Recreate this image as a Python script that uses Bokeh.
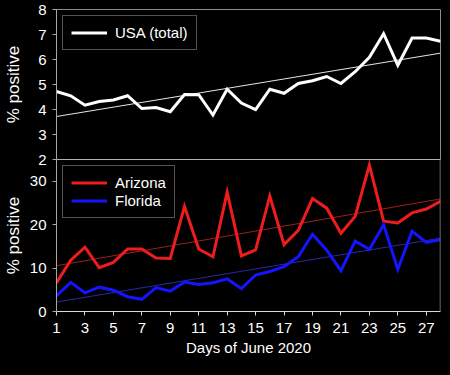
import numpy as np
from bokeh.plotting import figure
from bokeh.layouts import column
from bokeh.models import (FixedTicker, Range1d, Legend, LegendItem, Span,
                          GlobalInlineStyleSheet)
from bokeh.embed import file_html
from bokeh.resources import INLINE

# ---------------- data ----------------
days = list(range(1, 29))
usa = [4.72, 4.55, 4.17, 4.32, 4.38, 4.55, 4.04, 4.08, 3.91, 4.60,
       4.59, 3.78, 4.81, 4.26, 4.00, 4.81, 4.65, 5.04, 5.15, 5.32,
       5.04, 5.51, 6.09, 7.03, 5.77, 6.86, 6.86, 6.73]
arizona = [6.6, 11.8, 14.8, 10.1, 11.3, 14.4, 14.4, 12.3, 12.2, 24.2,
           14.4, 12.6, 27.5, 12.8, 14.2, 26.6, 15.4, 18.7, 26.0, 23.8,
           18.0, 21.9, 33.7, 20.8, 20.4, 22.7, 23.6, 25.4]
florida = [3.6, 6.7, 4.3, 5.6, 4.9, 3.4, 2.8, 5.5, 4.7, 6.8,
           6.2, 6.6, 7.5, 5.3, 8.4, 9.2, 10.3, 12.6, 17.8, 14.1,
           9.4, 16.2, 14.3, 20.0, 9.7, 18.5, 15.9, 16.5]
x_ticks = [1, 3, 5, 7, 9, 11, 13, 15, 17, 19, 21, 23, 25, 27]
usa_ticks = [2, 3, 4, 5, 6, 7, 8]
state_ticks = [0, 10, 20, 30]
state_max = 35
series_labels = ["USA (total)", "Arizona", "Florida"]
x_title = "Days of June 2020"
y_title = "% positive"

FONT = "Liberation Sans"
TXT = "#ffffff"
AXC = "#a6a6a6"
FS = "15px"
FS_Y = "17px"


def trend(x, y):
    k, b = np.polyfit(x, y, 1)
    xs = [x[0], x[-1]]
    return xs, [k * xs[0] + b, k * xs[1] + b]


def style_y(p, ticks, standoff):
    ax = p.yaxis[0]
    ax.ticker = FixedTicker(ticks=ticks)
    ax.axis_label = y_title
    ax.axis_label_text_font = FONT
    ax.axis_label_text_font_size = FS_Y
    ax.axis_label_text_font_style = "normal"
    ax.axis_label_text_color = TXT
    ax.axis_label_standoff = standoff
    ax.major_label_text_font = FONT
    ax.major_label_text_font_size = FS
    ax.major_label_text_color = TXT
    ax.major_label_standoff = 6
    ax.major_tick_out = 4
    ax.major_tick_in = 0
    ax.minor_tick_out = 0
    ax.minor_tick_in = 0
    ax.axis_line_color = AXC
    ax.major_tick_line_color = AXC


def make_legend(items):
    return Legend(items=items, location="top_left", margin=6, padding=8,
                  spacing=1, glyph_width=36, glyph_height=15,
                  label_height=15, label_standoff=8,
                  label_text_font=FONT, label_text_font_size=FS,
                  label_text_color=TXT, border_line_color=AXC,
                  border_line_width=1, background_fill_color="black",
                  background_fill_alpha=1.0)


# ---------------- top panel: USA ----------------
top = figure(width=441, height=167,
             x_range=Range1d(days[0], days[-1]),
             y_range=Range1d(usa_ticks[0], usa_ticks[-1]),
             output_backend="svg", toolbar_location=None,
             x_axis_location=None,
             min_border_left=50, min_border_right=1,
             min_border_top=9, min_border_bottom=8,
             background_fill_color="black", border_fill_color="black",
             outline_line_color="#8c8c8c")
top.grid.visible = False
style_y(top, usa_ticks, 12)

tx, ty = trend(days, usa)
top.line(tx, ty, line_color="#e6e6e6", line_width=1)
r_usa = top.line(days, usa, line_color="white", line_width=3,
                 line_join="miter")
top.add_layout(make_legend([LegendItem(label=series_labels[0],
                                       renderers=[r_usa])]))

# ---------------- bottom panel: Arizona & Florida ----------------
bot = figure(width=441, height=200,
             x_range=Range1d(days[0], days[-1]),
             y_range=Range1d(state_ticks[0], state_max),
             output_backend="svg", toolbar_location=None,
             min_border_left=50, min_border_right=1,
             min_border_top=0, min_border_bottom=48,
             background_fill_alpha=0, border_fill_alpha=0,
             outline_line_color=None, margin=(-8, 0, 0, 0))
bot.grid.visible = False
style_y(bot, state_ticks, 4)

xa = bot.xaxis[0]
xa.ticker = FixedTicker(ticks=x_ticks)
xa.axis_label = x_title
xa.axis_label_text_font = FONT
xa.axis_label_text_font_size = FS
xa.axis_label_text_font_style = "normal"
xa.axis_label_text_color = TXT
xa.axis_label_standoff = 3
xa.major_label_text_font = FONT
xa.major_label_text_font_size = FS
xa.major_label_text_color = TXT
xa.major_label_standoff = 7
xa.major_tick_out = 4
xa.major_tick_in = 0
xa.minor_tick_out = 0
xa.minor_tick_in = 0
xa.axis_line_color = "#d9d9d9"
xa.major_tick_line_color = "#d9d9d9"

bot.add_layout(Span(location=bot.y_range.end, dimension="width",
                    line_color="#d9d9d9", line_width=1))
bot.add_layout(Span(location=bot.x_range.end, dimension="height",
                    line_color="#8c8c8c", line_width=1.5))

ax_, ay_ = trend(days, arizona)
fx_, fy_ = trend(days, florida)
bot.line(ax_, ay_, line_color="#a01e1e", line_width=1)
bot.line(fx_, fy_, line_color="#2828a8", line_width=1)
r_az = bot.line(days, arizona, line_color="#ee1c1c", line_width=3,
                line_join="miter")
r_fl = bot.line(days, florida, line_color="#1414ff", line_width=3,
                line_join="miter")
bot.add_layout(make_legend([
    LegendItem(label=series_labels[1], renderers=[r_az]),
    LegendItem(label=series_labels[2], renderers=[r_fl]),
]))

page_css = GlobalInlineStyleSheet(css="html, body { background-color: #000000; }")
p = column(top, bot, spacing=0, stylesheets=[page_css])

open("out.html", "w").write(file_html(p, INLINE))
